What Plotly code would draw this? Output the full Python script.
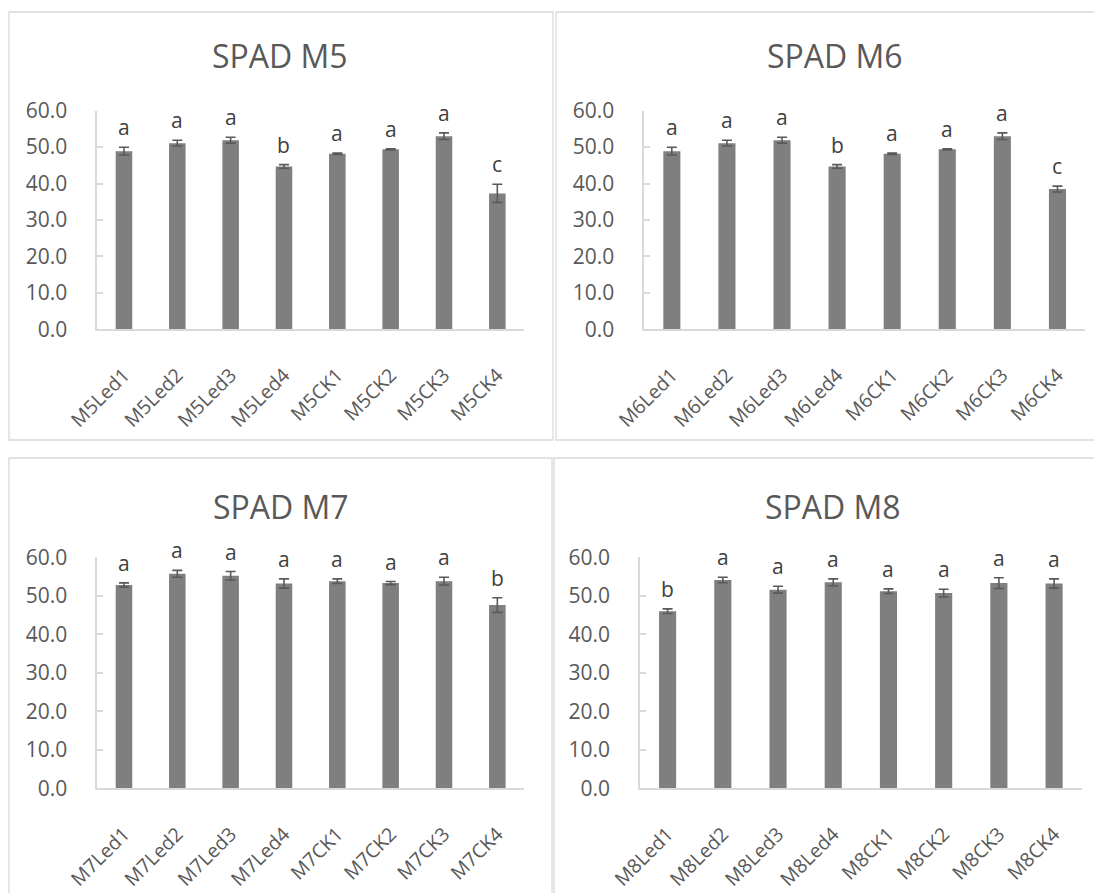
import plotly.graph_objects as go

W, H = 1102, 893
OFF = 8  # page body margin in the screenshot

# ---------------- data ----------------
cats_m5 = ["M5Led1", "M5Led2", "M5Led3", "M5Led4", "M5CK1", "M5CK2", "M5CK3", "M5CK4"]
vals_m5 = [48.9, 51.1, 51.9, 44.7, 48.2, 49.4, 53.0, 37.3]
errs_m5 = [1.05, 0.8, 0.8, 0.5, 0.2, 0.15, 0.9, 2.5]
lets_m5 = ["a", "a", "a", "b", "a", "a", "a", "c"]

cats_m6 = ["M6Led1", "M6Led2", "M6Led3", "M6Led4", "M6CK1", "M6CK2", "M6CK3", "M6CK4"]
vals_m6 = [48.9, 51.1, 51.9, 44.7, 48.2, 49.4, 53.0, 38.5]
errs_m6 = [1.05, 0.8, 0.8, 0.5, 0.2, 0.15, 0.9, 0.8]
lets_m6 = ["a", "a", "a", "b", "a", "a", "a", "c"]

cats_m7 = ["M7Led1", "M7Led2", "M7Led3", "M7Led4", "M7CK1", "M7CK2", "M7CK3", "M7CK4"]
vals_m7 = [52.8, 55.7, 55.2, 53.2, 53.8, 53.3, 53.8, 47.6]
errs_m7 = [0.55, 0.9, 1.1, 1.2, 0.6, 0.4, 1.0, 1.9]
lets_m7 = ["a", "a", "a", "a", "a", "a", "a", "b"]

cats_m8 = ["M8Led1", "M8Led2", "M8Led3", "M8Led4", "M8CK1", "M8CK2", "M8CK3", "M8CK4"]
vals_m8 = [46.0, 54.1, 51.6, 53.5, 51.2, 50.7, 53.3, 53.2]
errs_m8 = [0.6, 0.7, 0.9, 0.9, 0.6, 1.0, 1.4, 1.2]
lets_m8 = ["b", "a", "a", "a", "a", "a", "a", "a"]

titles = ["SPAD M5", "SPAD M6", "SPAD M7", "SPAD M8"]
y_ticks = [0, 10, 20, 30, 40, 50, 60]

# ---------------- layout helpers ----------------
def px(x):
    return (x - OFF) / W

def py(y):
    return 1 - (y - OFF) / H

FONT = "Open Sans"
BAR = "#7f7f7f"
TXT = "#595959"
GRID = "#d9d9d9"

panels = [
    dict(cats=cats_m5, vals=vals_m5, errs=errs_m5, lets=lets_m5,
         area=(97.3, 524.0, 110.7, 329.3), box=(9, 553, 12, 440), tc=(280, 56)),
    dict(cats=cats_m6, vals=vals_m6, errs=errs_m6, lets=lets_m6,
         area=(644.3, 1085.0, 110.7, 329.3), box=(556, 1100, 12, 440), tc=(835, 56)),
    dict(cats=cats_m7, vals=vals_m7, errs=errs_m7, lets=lets_m7,
         area=(97.3, 524.0, 557.3, 788.3), box=(9, 552, 458, 905), tc=(281, 506)),
    dict(cats=cats_m8, vals=vals_m8, errs=errs_m8, lets=lets_m8,
         area=(640.0, 1081.7, 557.3, 788.3), box=(554, 1100, 458, 905), tc=(833, 506)),
]

fig = go.Figure()
annotations = []
shapes = []
layout_axes = {}

for i, p in enumerate(panels, start=1):
    xa = "x" if i == 1 else f"x{i}"
    ya = "y" if i == 1 else f"y{i}"
    fig.add_trace(go.Bar(
        x=p["cats"], y=p["vals"],
        marker=dict(color=BAR, line=dict(width=0)),
        error_y=dict(type="data", array=p["errs"], visible=True,
                     color=TXT, thickness=1.6, width=5),
        xaxis=xa, yaxis=ya, showlegend=False, hoverinfo="x+y",
    ))
    x0, x1, yt, yb = p["area"]
    layout_axes["xaxis" if i == 1 else f"xaxis{i}"] = dict(
        domain=[px(x0), px(x1)], anchor=ya, automargin=False,
        showline=True, linecolor=GRID, linewidth=1.5,
        showgrid=False, ticks="", tickangle=-45,
        tickfont=dict(family=FONT, size=19.5, color=TXT),
        ticklabelstandoff=25, fixedrange=True,
    )
    layout_axes["yaxis" if i == 1 else f"yaxis{i}"] = dict(
        domain=[py(yb), py(yt)], anchor=xa, range=[0, 60], automargin=False,
        tickvals=y_ticks, tickformat=".1f",
        showline=True, linecolor=GRID, linewidth=1.5,
        showgrid=False, ticks="inside", ticklen=6, tickcolor=GRID, tickwidth=1.5,
        tickfont=dict(family=FONT, size=21, color=TXT),
        ticklabelstandoff=24, zeroline=False, fixedrange=True,
    )
    for c, v, e, l in zip(p["cats"], p["vals"], p["errs"], p["lets"]):
        annotations.append(dict(
            x=c, y=v + e, xref=xa, yref=ya, text=l, showarrow=False,
            yanchor="bottom", yshift=4,
            font=dict(family=FONT, size=21, color="#404040"),
        ))
    bx0, bx1, by0, by1 = p["box"]
    shapes.append(dict(type="rect", xref="paper", yref="paper",
                       x0=px(bx0), x1=px(bx1), y0=py(by1), y1=py(by0),
                       line=dict(color=GRID, width=1.3), layer="below"))
    tx, ty = p["tc"]
    annotations.append(dict(
        x=px(tx), y=py(ty), xref="paper", yref="paper", text=titles[i - 1],
        showarrow=False, xanchor="center", yanchor="middle",
        font=dict(family=FONT, size=32, color=TXT),
    ))

fig.update_layout(
    width=W, height=H, margin=dict(l=0, r=0, t=0, b=0, autoexpand=False),
    paper_bgcolor="white", plot_bgcolor="white",
    bargap=0.69, annotations=annotations, shapes=shapes,
    **layout_axes,
)

fig.write_html("out.html")
